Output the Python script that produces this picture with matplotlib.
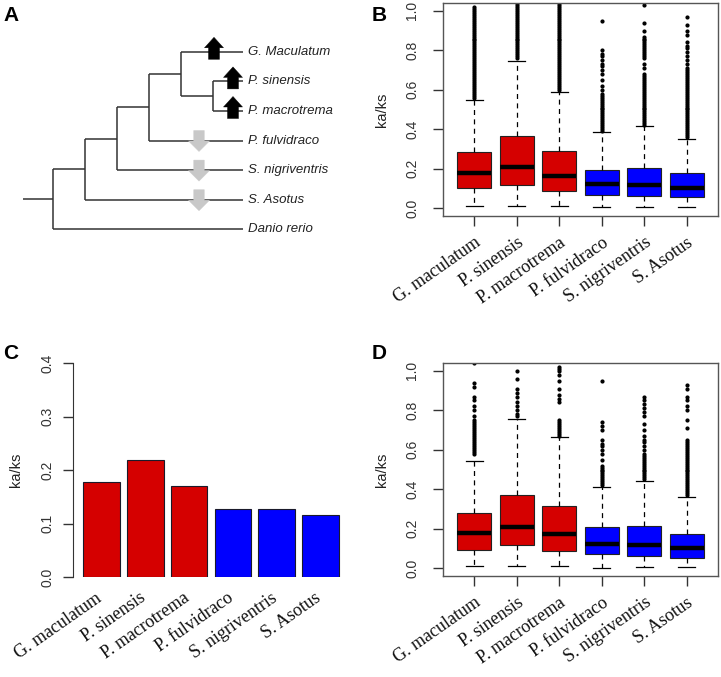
import numpy as np
import matplotlib.pyplot as plt
from matplotlib.transforms import ScaledTranslation

# species shown on the x axis of B, C and D
species = ["G. maculatum", "P. sinensis", "P. macrotrema",
           "P. fulvidraco", "S. nigriventris", "S. Asotus"]

# panel C: mean ka/ks
mean_kaks = [0.178, 0.219, 0.170, 0.127, 0.128, 0.116]

# panel B: box statistics
b_lo = [0.012, 0.012, 0.011, 0.006, 0.006, 0.006]
b_q1 = [0.100, 0.117, 0.088, 0.066, 0.063, 0.055]
b_med = [0.177, 0.209, 0.161, 0.122, 0.117, 0.103]
b_q3 = [0.282, 0.368, 0.292, 0.194, 0.205, 0.176]
b_hi = [0.549, 0.747, 0.591, 0.385, 0.414, 0.350]
# outliers, in hundredths
b_out = [
    [56, 57, 58, 59, 60, 61, 62, 63, 64, 65, 66, 67, 68, 69, 70, 71, 72, 73, 74, 75,
     76, 77, 78, 79, 80, 81, 82, 83, 84, 85, 86, 87, 88, 89, 90, 91, 92, 93, 94, 95,
     96, 97, 98, 99, 100, 101, 102],
    [76, 77, 78, 79, 80, 81, 82, 83, 84, 85, 86, 87, 88, 89, 90, 91, 92, 93, 94, 95,
     96, 97, 98, 99, 100, 101, 102, 103, 104],
    [60, 61, 62, 63, 64, 65, 66, 67, 68, 69, 70, 71, 72, 73, 74, 75, 76, 77, 78, 79,
     80, 81, 82, 83, 84, 85, 86, 87, 88, 89, 90, 91, 92, 93, 94, 95, 96, 97, 98, 99,
     100, 101, 102, 103, 104],
    [39, 40, 41, 42, 43, 44, 45, 46, 47, 48, 49, 50, 51, 52, 53, 54, 55, 56, 57, 58,
     60, 62, 65, 68, 70, 72, 73, 75, 77, 78, 80, 95],
    [42, 43, 44, 45, 46, 47, 48, 49, 50, 51, 52, 53, 54, 55, 56, 57, 58, 59, 60, 61,
     62, 63, 64, 65, 66, 67, 68, 71, 73, 76, 77, 78, 79, 80, 81, 82, 83, 84, 85, 86,
     87, 90, 94, 103],
    [36, 37, 38, 39, 40, 41, 42, 43, 44, 45, 46, 47, 48, 49, 50, 51, 52, 53, 54, 55,
     56, 57, 58, 59, 60, 61, 62, 63, 64, 65, 66, 67, 68, 69, 70, 71, 73, 75, 77, 79,
     81, 82, 84, 88, 90, 93, 97],
]

# panel D: box statistics
d_lo = [0.012, 0.010, 0.009, 0.003, 0.006, 0.004]
d_q1 = [0.093, 0.117, 0.085, 0.070, 0.062, 0.050]
d_med = [0.179, 0.208, 0.173, 0.120, 0.115, 0.101]
d_q3 = [0.280, 0.372, 0.316, 0.208, 0.213, 0.175]
d_hi = [0.544, 0.755, 0.663, 0.409, 0.440, 0.363]
d_out = [
    [58, 59, 60, 61, 62, 63, 64, 65, 66, 67, 68, 69, 70, 71, 72, 73, 74, 75, 77, 80,
     82, 85, 87, 92, 94, 104],
    [77, 78, 80, 82, 84, 87, 89, 91, 96, 100],
    [67, 68, 69, 70, 71, 72, 73, 74, 75, 84, 86, 88, 91, 95, 98, 100, 101, 102],
    [42, 43, 44, 45, 46, 47, 48, 49, 50, 51, 52, 55, 58, 60, 62, 63, 65, 70, 72, 74, 95],
    [45, 46, 47, 48, 49, 50, 51, 52, 53, 54, 55, 56, 57, 58, 60, 62, 64, 65, 67, 70,
     73, 77, 79, 81, 83, 85, 87],
    [37, 38, 39, 40, 41, 42, 43, 44, 45, 46, 47, 48, 49, 50, 51, 52, 53, 54, 55, 56,
     57, 58, 59, 60, 61, 62, 63, 64, 65, 71, 75, 80, 82, 85, 87, 91, 93],
]

# panel A: tree
tree_tips = ["G. Maculatum", "P. sinensis", "P. macrotrema", "P. fulvidraco",
             "S. nigriventris", "S. Asotus", "Danio rerio"]
tree_shape = (((((0, (1, 2)), 3), 4), 5), 6)
tip_arrow = ["up", "up", "up", "down", "down", "down", None]
arrow_x = [214, 233, 233, 199, 199, 199, None]

RED = "#D50000"
BLUE = "#0000FF"
colors = [RED] * 3 + [BLUE] * 3
SANS = "Liberation Sans"
SERIF = "Liberation Serif"

W, H = 721, 677
fig = plt.figure(figsize=(W / 100, H / 100), dpi=100)


def px_axes(left, top, right, bottom):
    return fig.add_axes([left / W, 1 - bottom / H, (right - left) / W, (bottom - top) / H])


# ---------------- A: tree ----------------
axA = px_axes(0, 0, 360, 280)
axA.set_xlim(0, 360)
axA.set_ylim(280, 0)
axA.axis("off")

tip_y = [51.7 + i * 29.6 for i in range(len(tree_tips))]
x_root, dx, x_tip = 53, 32, 243
line_kw = dict(color="#333333", lw=1.1, solid_capstyle="butt", zorder=1)


def draw_clade(node, depth):
    if isinstance(node, int):
        return tip_y[node], x_tip
    x = x_root + depth * dx
    ys = []
    for child in node:
        cy, cx = draw_clade(child, depth + 1)
        end = x_tip if isinstance(child, int) else x_root + (depth + 1) * dx
        axA.plot([x, end], [cy, cy], **line_kw)
        ys.append(cy)
    axA.plot([x, x], [min(ys), max(ys)], **line_kw)
    return sum(ys) / len(ys), x


root_y, _ = draw_clade(tree_shape, 0)
axA.plot([23, x_root], [root_y, root_y], **line_kw)

for i, name in enumerate(tree_tips):
    axA.text(248, tip_y[i], name, ha="left", va="center", style="italic",
             fontsize=9.5, family=SANS, color="#222222")
    if tip_arrow[i] == "up":
        axA.arrow(arrow_x[i], tip_y[i] + 7.6, 0, -22, width=11, head_width=19,
                  head_length=10.5, length_includes_head=True, facecolor="black",
                  edgecolor="black", lw=0.3, zorder=3)
    elif tip_arrow[i] == "down":
        axA.arrow(arrow_x[i], tip_y[i] - 10, 0, 21, width=10.5, head_width=21,
                  head_length=10.5, length_includes_head=True, facecolor="#C8C8C8",
                  edgecolor="#C8C8C8", lw=0.3, zorder=3)


# ---------------- B and D: boxplots ----------------
def box_panel(ax, lo, q1, med, q3, hi, out):
    stats = []
    for i in range(len(species)):
        stats.append(dict(whislo=lo[i], q1=q1[i], med=med[i], q3=q3[i], whishi=hi[i],
                          fliers=[v / 100 for v in out[i]]))
    parts = ax.bxp(stats, positions=range(1, 7), widths=0.8, patch_artist=True,
                   capwidths=0.4,
                   boxprops=dict(edgecolor="#222222", linewidth=0.8),
                   medianprops=dict(color="black", linewidth=3.2, solid_capstyle="butt"),
                   whiskerprops=dict(color="black", linewidth=0.9, linestyle=(0, (4, 3.5))),
                   capprops=dict(color="black", linewidth=0.9),
                   flierprops=dict(marker="o", markersize=2.0, markerfacecolor="black",
                                   markeredgecolor="black", linestyle="none"))
    for patch, c in zip(parts["boxes"], colors):
        patch.set_facecolor(c)
    ax.set_xlim(0.26, 6.74)
    ax.set_ylim(-0.04, 1.04)
    ax.set_yticks([0.0, 0.2, 0.4, 0.6, 0.8, 1.0])
    ax.set_yticklabels(["0.0", "0.2", "0.4", "0.6", "0.8", "1.0"], rotation=90,
                       va="center", family=SANS, fontsize=10, color="#333333")
    ax.set_xticks(range(1, 7))
    ax.set_xticklabels(species, rotation=35, ha="right", rotation_mode="anchor",
                       family=SERIF, fontsize=13, color="#111111")
    ax.tick_params(axis="both", length=7, width=1, color="#333333")
    ax.tick_params(axis="y", pad=10)
    ax.tick_params(axis="x", pad=6)
    for s in ax.spines.values():
        s.set_color("#555555")
        s.set_linewidth(1)
    ax.set_ylabel("ka/ks", family=SANS, fontsize=10.5, labelpad=12, color="#222222")


axB = px_axes(443, 3, 718, 216)
box_panel(axB, b_lo, b_q1, b_med, b_q3, b_hi, b_out)

axD = px_axes(443, 363, 718, 576)
box_panel(axD, d_lo, d_q1, d_med, d_q3, d_hi, d_out)

# ---------------- C: bar chart ----------------
axC = px_axes(73, 363, 349, 577)
bar_x = [0.7 + 1.2 * i for i in range(len(species))]
axC.bar(bar_x, mean_kaks, width=1.0, color=colors, edgecolor="#1a1a2a", linewidth=0.8)
axC.set_xlim(-0.08, 7.48)
axC.set_ylim(0, 0.4)
for side in ["top", "right", "bottom"]:
    axC.spines[side].set_visible(False)
axC.spines["left"].set_bounds(0, 0.4)
axC.spines["left"].set_color("#333333")
axC.set_yticks([0.0, 0.1, 0.2, 0.3, 0.4])
axC.set_yticklabels(["0.0", "0.1", "0.2", "0.3", "0.4"], rotation=90, va="center",
                    family=SANS, fontsize=10, color="#333333")
axC.tick_params(axis="y", length=7, width=1, color="#333333", pad=6)
axC.set_xticks(bar_x)
axC.set_xticklabels(species, rotation=35, ha="right", rotation_mode="anchor",
                    family=SERIF, fontsize=13, color="#111111")
axC.tick_params(axis="x", length=0, pad=9)
shift = ScaledTranslation(-6 / 100, 0, fig.dpi_scale_trans)
for lab in axC.get_xticklabels():
    lab.set_transform(lab.get_transform() + shift)
axC.set_ylabel("ka/ks", family=SANS, fontsize=10.5, labelpad=13, color="#222222")

# panel letters
for letter, (x, y) in zip("ABCD", [(3, 6), (372, 6), (3, 344), (372, 344)]):
    fig.text(x / W, 1 - y / H, letter, ha="left", va="top", fontsize=15,
             fontweight="bold", family=SANS)

fig.savefig("out.png", dpi=100)
